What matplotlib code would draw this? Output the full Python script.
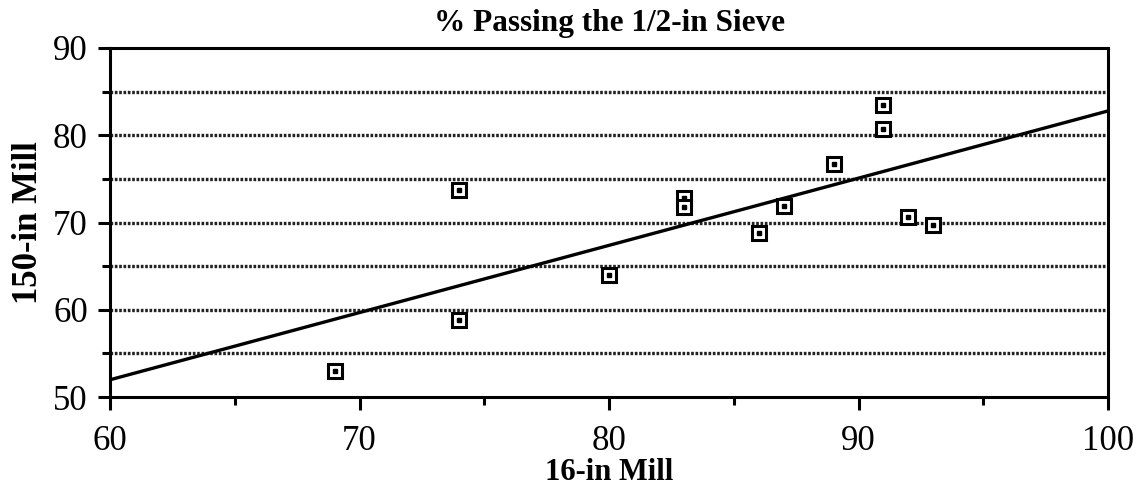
import matplotlib
matplotlib.use("Agg")
import matplotlib.pyplot as plt
import numpy as np
from matplotlib.ticker import MultipleLocator

x_16in = [69, 74, 74, 80, 83, 83, 86, 87, 89, 91, 91, 92, 93]
y_150in = [53, 58.8, 73.7, 64, 72.8, 71.8, 68.8, 71.9, 76.7, 80.7, 83.5, 70.6, 69.7]
title = "% Passing the 1/2-in Sieve"
xlabel = "16-in Mill"
ylabel = "150-in Mill"

fig = plt.figure(figsize=(11.44, 4.97), dpi=100)
ax = fig.add_axes([110/1144, 1-397/497, (1108-110)/1144, (397-48)/497])

ax.set_xlim(60, 100)
ax.set_ylim(50, 90)

for g in [55, 60, 65, 70, 75, 80, 85]:
    ax.axhline(g, color="#222222", lw=2.4, ls=(0, (0.8, 0.5)), zorder=1)

slope, intercept = np.polyfit(x_16in, y_150in, 1)
xl = np.array([60, 100])
ax.plot(xl, slope*xl + intercept, color="black", lw=2.4, zorder=2)

ax.plot(x_16in, y_150in, ls="none", marker="s", ms=10, mfc="white", mec="black", mew=2.2, zorder=3)
ax.plot(x_16in, y_150in, ls="none", marker="s", ms=2.2, color="black", zorder=4)

ax.xaxis.set_major_locator(MultipleLocator(10))
ax.xaxis.set_minor_locator(MultipleLocator(5))
ax.yaxis.set_major_locator(MultipleLocator(10))
ax.yaxis.set_minor_locator(MultipleLocator(5))
ax.tick_params(which="major", direction="out", length=9, width=2.2, labelsize=25)
ax.tick_params(axis="y", which="major", pad=7)
ax.tick_params(axis="x", which="major", pad=11)
ax.tick_params(which="minor", direction="out", length=5.5, width=2.2)
for lab in ax.get_xticklabels() + ax.get_yticklabels():
    lab.set_fontfamily("Liberation Serif")
for s in ax.spines.values():
    s.set_linewidth(2.2)

ax.set_title(title, fontsize=22.5, fontweight="bold", family="Liberation Serif", pad=12)
ax.set_xlabel(xlabel, fontsize=22, fontweight="bold", family="Liberation Serif", labelpad=0)
ax.set_ylabel(ylabel, fontsize=25, fontweight="bold", family="Liberation Serif", labelpad=6)

fig.savefig("out.png", dpi=100)
